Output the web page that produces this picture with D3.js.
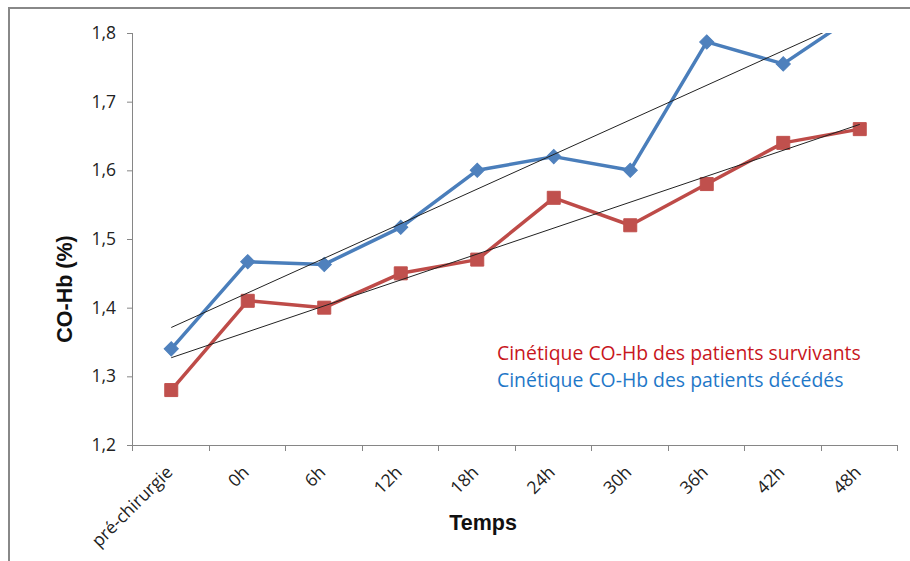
<!DOCTYPE html>
<html>
<head>
<meta charset="utf-8">
<script src="https://cdn.jsdelivr.net/npm/d3@7"></script>
<style>
  html, body { margin: 0; padding: 0; background: #fff; }
  svg { display: block; }
</style>
</head>
<body>
<svg id="chart" width="910" height="561"></svg>
<script>
// Time points after surgery
const categories = ["pré-chirurgie", "0h", "6h", "12h", "18h", "24h", "30h", "36h", "42h", "48h"];
// Mean CO-Hb (%) per group
const survivants = [1.28, 1.41, 1.40, 1.45, 1.47, 1.56, 1.52, 1.58, 1.64, 1.66];
const decedes    = [1.34, 1.467, 1.463, 1.517, 1.60, 1.62, 1.60, 1.787, 1.755, 1.83];
const yTicks = [1.2, 1.3, 1.4, 1.5, 1.6, 1.7, 1.8];
const legendLabels = ["Cinétique CO-Hb des patients survivants", "Cinétique CO-Hb des patients décédés"];

(function () {
const svg = d3.select("#chart");
const pl = 133, pr = 898, pt = 33, pb = 445;
const axisColor = "#868686";

// outer frame
svg.append("path")
  .attr("d", `M9,561 V8 H910`)
  .attr("fill", "none").attr("stroke", "#888").attr("stroke-width", 2);

const x = d3.scaleBand().domain(categories).range([pl, pr]).padding(0);
const y = d3.scaleLinear().domain([1.2, 1.8]).range([pb, pt]);
const cx = d => x(d) + x.bandwidth() / 2;

// clip region = plot area
svg.append("clipPath").attr("id", "plot")
  .append("rect").attr("x", pl).attr("y", pt).attr("width", pr - pl + 20).attr("height", pb - pt);

// y axis
const yAxis = svg.append("g").attr("transform", `translate(${pl},0)`)
  .call(d3.axisLeft(y).tickValues(yTicks).tickSize(6).tickPadding(11)
    .tickFormat(d => d3.format(".1f")(d).replace(".", ",")));
yAxis.select(".domain").attr("stroke", axisColor).attr("d", `M-0.5,${pt}V${pb}`);
yAxis.selectAll(".tick line").attr("stroke", axisColor);
yAxis.selectAll(".tick text")
  .attr("font-family", "'Open Sans', sans-serif").attr("font-size", 17.5).attr("fill", "#222");

// x axis: line, boundary ticks, rotated labels
svg.append("line").attr("x1", pl).attr("x2", pr).attr("y1", pb + 0.5).attr("y2", pb + 0.5)
  .attr("stroke", axisColor);
const bounds = categories.map(c => x(c)).concat([x(categories[categories.length - 1]) + x.bandwidth()]);
svg.append("g").selectAll("line").data(bounds).join("line")
  .attr("x1", d => Math.round(d) - 0.5).attr("x2", d => Math.round(d) - 0.5)
  .attr("y1", pb).attr("y2", pb + 6).attr("stroke", axisColor);
svg.append("g").selectAll("text").data(categories).join("text")
  .attr("transform", d => `translate(${cx(d) - 2},${pb + 24}) rotate(-45)`)
  .attr("text-anchor", "end").attr("dy", "0.35em")
  .attr("font-family", "'Open Sans', sans-serif").attr("font-size", 17.5).attr("fill", "#222")
  .text(d => d);

// axis titles
svg.append("text").attr("transform", `translate(72,289) rotate(-90)`)
  .attr("text-anchor", "middle")
  .attr("font-family", "'Liberation Sans', Arial, sans-serif").attr("font-weight", "bold").attr("font-size", 21.5)
  .attr("fill", "#111").text("CO-Hb (%)");
svg.append("text").attr("x", 483).attr("y", 530)
  .attr("text-anchor", "middle")
  .attr("font-family", "'Liberation Sans', Arial, sans-serif").attr("font-weight", "bold").attr("font-size", 21.5)
  .attr("fill", "#111").text("Temps");

// linear regression trend over category index
function trend(vals) {
  const n = vals.length, mx = (n - 1) / 2, my = d3.mean(vals);
  let sxy = 0, sxx = 0;
  vals.forEach((v, i) => { sxy += (i - mx) * (v - my); sxx += (i - mx) * (i - mx); });
  const b = sxy / sxx, a = my - b * mx;
  return [a, a + b * (n - 1)];
}

const plot = svg.append("g").attr("clip-path", "url(#plot)");
const line = d3.line().x((d, i) => cx(categories[i])).y(d => y(d));

const series = [
  { vals: survivants, line: "#BE4B48", fill: "#C0504D", size: 169, rot: 0 },
  { vals: decedes, line: "#4A7EBB", fill: "#4F81BD", size: 100, rot: 45 }
];

series.forEach(s => {
  plot.append("path").datum(s.vals).attr("d", line)
    .attr("fill", "none").attr("stroke", s.line).attr("stroke-width", 3.5).attr("stroke-linejoin", "round");
  const sym = d3.symbol().type(d3.symbolSquare).size(s.size);
  plot.append("g").selectAll("path").data(s.vals).join("path")
    .attr("d", sym())
    .attr("transform", (d, i) => `translate(${cx(categories[i])},${y(d)}) rotate(${s.rot})`)
    .attr("fill", s.fill).attr("stroke", s.fill).attr("stroke-width", 1);
});

// trend lines
series.forEach(s => {
  const [y0, y1] = trend(s.vals);
  plot.append("line")
    .attr("x1", cx(categories[0])).attr("y1", y(y0))
    .attr("x2", cx(categories[categories.length - 1])).attr("y2", y(y1))
    .attr("stroke", "#222").attr("stroke-width", 1);
});

// legend text
const legendColors = ["#C8161D", "#1F78C8"];
svg.append("g").selectAll("text").data(legendLabels).join("text")
  .attr("x", 497).attr("y", (d, i) => 360 + i * 27)
  .attr("font-family", "'Open Sans', sans-serif").attr("font-size", 19.4)
  .attr("fill", (d, i) => legendColors[i])
  .text(d => d);
})();
</script>
</body>
</html>
